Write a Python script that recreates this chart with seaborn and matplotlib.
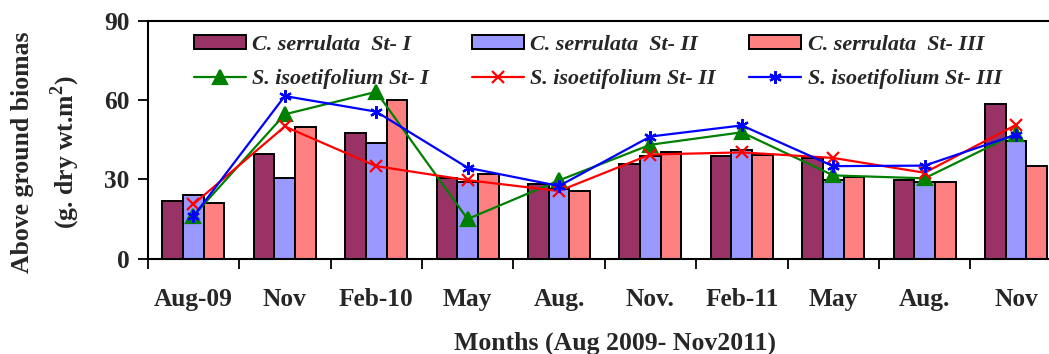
import matplotlib
matplotlib.use("Agg")
import matplotlib.pyplot as plt
from matplotlib.patches import Patch
from matplotlib.lines import Line2D
import seaborn as sns
import pandas as pd
import numpy as np

months = ["Aug-09", "Nov", "Feb-10", "May", "Aug.", "Nov.", "Feb-11", "May", "Aug.", "Nov"]

c_st1 = [21.9, 39.5, 47.5, 30.6, 28.4, 35.8, 38.7, 38.1, 29.7, 58.6]
c_st2 = [24.1, 30.6, 43.8, 29.0, 26.2, 38.7, 41.0, 29.7, 29.0, 44.5]
c_st3 = [21.1, 49.8, 60.0, 32.1, 25.5, 40.2, 39.4, 31.0, 29.0, 35.0]

s_st1 = [16.2, 54.6, 63.1, 15.0, 29.6, 43.1, 47.8, 31.5, 30.4, 47.3]
s_st2 = [20.6, 50.0, 35.0, 29.7, 25.6, 39.4, 40.2, 38.1, 32.5, 50.6]
s_st3 = [16.0, 61.5, 55.6, 34.4, 27.5, 46.2, 50.4, 35.0, 35.2, 46.9]

bar_names = ["C. serrulata  St- I", "C. serrulata  St- II", "C. serrulata  St- III"]
line_names = ["S. isoetifolium St- I", "S. isoetifolium St- II", "S. isoetifolium St- III"]
bar_colors = ["#993366", "#9999FF", "#FF8080"]
line_colors = ["#008000", "#FF0000", "#0000FF"]
line_markers = ["^", "x", (6, 2, 0)]

sns.set_theme(style="ticks")
plt.rcParams["font.family"] = ["Liberation Serif", "DejaVu Serif"]
plt.rcParams["font.weight"] = "bold"
plt.rcParams["mathtext.fontset"] = "custom"
plt.rcParams["mathtext.rm"] = "Liberation Serif:bold"
plt.rcParams["mathtext.bf"] = "Liberation Serif:bold"

FS = 18.3

idx = list(range(len(months)))
bar_df = pd.DataFrame({
    "idx": idx * 3,
    "value": c_st1 + c_st2 + c_st3,
    "series": [bar_names[0]] * 10 + [bar_names[1]] * 10 + [bar_names[2]] * 10,
})

fig = plt.figure(figsize=(10.49, 3.54), dpi=100)
ax = fig.add_axes([147.7 / 1049, 1 - 258.7 / 354, 914 / 1049, 238 / 354])

sns.barplot(data=bar_df, x="idx", y="value", hue="series", hue_order=bar_names,
            palette=bar_colors, width=0.68, gap=0, edgecolor="black",
            linewidth=1.4, saturation=1, legend=False, ax=ax, errorbar=None)

for vals, name, col, mk in zip([s_st1, s_st2, s_st3], line_names, line_colors, line_markers):
    ldf = pd.DataFrame({"idx": idx, "value": vals})
    ms = 10 if mk == "^" else 9
    sns.lineplot(data=ldf, x="idx", y="value", color=col, marker=mk, markersize=ms,
                 markeredgecolor=col, markerfacecolor=col, markeredgewidth=1.6,
                 linewidth=1.6, ax=ax, legend=False)

ax.set_xlim(-0.5, 9.5)
ax.set_ylim(0, 90)
ax.set_yticks([0, 30, 60, 90])
ax.set_xticks(idx)
ax.set_xticklabels(months)
ax.set_xticks(np.arange(-0.5, 10.0, 1.0), minor=True)
ax.tick_params(axis="x", which="major", length=0, pad=21, labelsize=FS)
ax.tick_params(axis="x", which="minor", length=7, width=1.3, direction="out", color="black")
ax.tick_params(axis="y", length=7, width=1.3, direction="out", pad=6, labelsize=FS, color="black")
for lab in ax.get_xticklabels() + ax.get_yticklabels():
    lab.set_fontweight("bold")
ax.set_xlabel("")
ax.set_ylabel("")
for s in ax.spines.values():
    s.set_visible(True)
    s.set_linewidth(1.5)
    s.set_color("black")

# legend: one column per station, bars on row 1, lines on row 2
leg_prop = {"family": "Liberation Serif", "weight": "bold", "style": "italic", "size": 15.9}
col_x = [194, 471.7, 749.3]
for i in range(3):
    h = [Patch(facecolor=bar_colors[i], edgecolor="black", linewidth=1.4),
         Line2D([], [], color=line_colors[i], marker=line_markers[i],
                markersize=10 if i == 0 else 9, markeredgewidth=1.6,
                markerfacecolor=line_colors[i], markeredgecolor=line_colors[i],
                linewidth=1.6)]
    fig.legend(h, [bar_names[i], line_names[i]], ncol=1, loc="upper left",
               bbox_to_anchor=(col_x[i] / 1049, 1 - 35 / 354), frameon=False,
               prop=leg_prop, handlelength=2.35, handleheight=0.6,
               handletextpad=0.29, labelspacing=0.64, borderpad=0, borderaxespad=0)

fig.text(615 / 1049, 1 - 343 / 354, "Months (Aug 2009- Nov2011)", ha="center", va="center",
         fontsize=18.5, fontweight="bold")
fig.text(22.7 / 1049, 1 - 152 / 354, "Above ground biomas", rotation=90, ha="center",
         va="center", fontsize=18.5, fontweight="bold")
fig.text(65 / 1049, 1 - 152 / 354, r"(g. dry wt.m$^{2}$)", rotation=90, ha="center",
         va="center", fontsize=18.5, fontweight="bold")

fig.savefig("out.png", dpi=100)
